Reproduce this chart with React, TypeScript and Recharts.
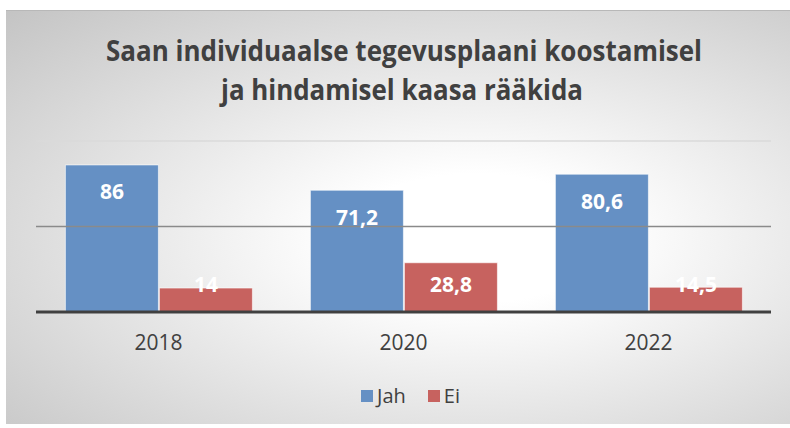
import React from "react";
import { BarChart, Bar, XAxis, YAxis, ReferenceLine, Legend, LabelList } from "recharts";

const years = ["2018", "2020", "2022"];
const jah = [86, 71.2, 80.6];
const ei = [14, 28.8, 14.5];
const seriesNames = ["Jah", "Ei"];
const titleLines = ["Saan individuaalse tegevusplaani koostamisel", "ja hindamisel kaasa rääkida"];
const yTicks = [0, 50, 100];

const data = years.map((y, i) => ({ year: y, Jah: jah[i], Ei: ei[i] }));

const FONT = "'Open Sans', sans-serif";
const fmt = (v: number) => String(v).replace(".", ",");

const renderLabel = (props: any) => {
  const { x, y, width, height, value } = props;
  const cy = Math.min(y + 27, y + height - 27);
  return (
    <text
      x={x + width / 2}
      y={cy}
      dy="0.35em"
      textAnchor="middle"
      fill="#ffffff"
      fontFamily={FONT}
      fontWeight={700}
      fontSize={21}
    >
      {fmt(value)}
    </text>
  );
};

const renderLegend = (props: any) => {
  const payload = [...(props.payload || [])].sort(
    (a: any, b: any) => seriesNames.indexOf(a.value) - seriesNames.indexOf(b.value)
  );
  return (
    <div style={{ display: "flex", justifyContent: "center", alignItems: "center", fontFamily: FONT, fontSize: 20, color: "#404040", paddingLeft: 14 }}>
      {payload.map((p: any, i: number) => (
        <div key={i} style={{ display: "flex", alignItems: "center", marginRight: i === 0 ? 22 : 0 }}>
          <div style={{ width: 12, height: 12, background: p.color, marginRight: 4 }} />
          <span>{p.value}</span>
        </div>
      ))}
    </div>
  );
};

export default function App() {
  return (
    <div
      style={{
        position: "absolute",
        left: 6,
        top: 10,
        width: 784,
        height: 414,
        background: "radial-gradient(ellipse at 60% 55%, #ffffff 0%, #ffffff 20%, #c4c4c4 100%)",
        borderTop: "1px solid #b8b8b8",
        boxSizing: "border-box",
      }}
    >
      <svg width={784} height={120} style={{ position: "absolute", left: 0, top: -1 }}>
        <text x={398} y={51} textAnchor="middle" fill="#404040" fontFamily={FONT} fontWeight={700} fontSize={28} textLength={596} lengthAdjust="spacingAndGlyphs">
          {titleLines[0]}
        </text>
        <text x={396} y={90} textAnchor="middle" fill="#404040" fontFamily={FONT} fontWeight={700} fontSize={28} textLength={362} lengthAdjust="spacingAndGlyphs">
          {titleLines[1]}
        </text>
      </svg>
      <div style={{ position: "absolute", left: 0, top: -1 }}>
        <BarChart
          width={784}
          height={414}
          data={data}
          margin={{ top: 131, right: 19, left: 30, bottom: 45 }}
          barCategoryGap="12%"
          barGap={1}
        >
          <YAxis hide domain={[0, 100]} ticks={yTicks} />
          <ReferenceLine y={100} stroke="#dadada" strokeWidth={1.5} />
          <ReferenceLine y={50} stroke="#8a8a8a" strokeWidth={1.5} />
          <XAxis
            dataKey="year"
            axisLine={{ stroke: "#404040", strokeWidth: 3 }}
            tickLine={false}
            tickSize={0}
            tickMargin={23}
            height={40}
            tick={{ fill: "#404040", fontSize: 21, fontFamily: FONT }}
          />
          <Bar dataKey="Jah" fill="#6590c4" stroke="rgba(255,255,255,0.6)" strokeWidth={1} isAnimationActive={false}>
            <LabelList dataKey="Jah" content={renderLabel} />
          </Bar>
          <Bar dataKey="Ei" fill="#c7625f" stroke="rgba(255,255,255,0.6)" strokeWidth={1} isAnimationActive={false}>
            <LabelList dataKey="Ei" content={renderLabel} />
          </Bar>
          <Legend verticalAlign="bottom" content={renderLegend} wrapperStyle={{ top: 372, bottom: "auto" }} />
        </BarChart>
      </div>
    </div>
  );
}
